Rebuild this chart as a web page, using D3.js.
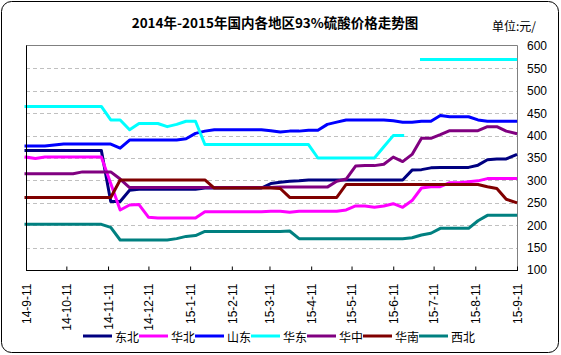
<!DOCTYPE html>
<html><head><meta charset="utf-8">
<script src="https://cdn.jsdelivr.net/npm/d3@7"></script>
<style>body{margin:0;background:#fff} svg{display:block}</style>
</head><body>
<svg id="c" width="561" height="355"></svg>
<script>
const dates = ["2014-09-11","2014-09-18","2014-09-25","2014-10-02","2014-10-09","2014-10-16","2014-10-23","2014-10-30","2014-11-06","2014-11-13","2014-11-20","2014-11-27","2014-12-04","2014-12-11","2014-12-18","2014-12-25","2015-01-01","2015-01-08","2015-01-15","2015-01-22","2015-01-29","2015-02-05","2015-02-12","2015-02-19","2015-02-26","2015-03-05","2015-03-12","2015-03-19","2015-03-26","2015-04-02","2015-04-09","2015-04-16","2015-04-23","2015-04-30","2015-05-07","2015-05-14","2015-05-21","2015-05-28","2015-06-04","2015-06-11","2015-06-18","2015-06-25","2015-07-02","2015-07-09","2015-07-16","2015-07-23","2015-07-30","2015-08-06","2015-08-13","2015-08-20","2015-08-27","2015-09-03","2015-09-10"];

const seriesNames = ["东北","华北","山东","华东","华中","华南","西北"];

const dongbei = [367,367,367,367,367,367,367,367,367,253,253,278,280,280,280,280,280,280,280,283,283,283,283,283,283,283,293,296,298,299,301,301,301,301,301,301,301,301,301,301,301,323,324,328,329,329,329,329,334,346,348,348,357];
const huabei = [352,349,352,352,352,352,352,352,352,293,234,245,246,218,216,216,216,216,216,230,230,230,230,230,230,230,231,231,229,231,231,231,231,231,234,243,243,240,243,248,240,255,283,286,286,295,295,297,299,304,304,304,304];
const shandong = [377,377,377,379,381,381,381,381,381,381,372,390,390,390,390,390,390,393,405,410,413,413,413,413,413,413,411,408,410,410,412,412,425,430,435,435,435,435,435,433,430,430,432,432,445,442,442,442,435,432,432,432,432];
const huadong = [465,465,465,465,465,465,465,465,465,435,435,413,427,427,427,420,425,432,432,380,380,380,380,380,380,380,380,380,380,380,380,350,350,350,350,350,350,350,375,400,400,null,570,570,570,570,570,570,570,570,570,570,570];
const huazhong = [315,315,315,315,315,315,319,319,319,319,303,284,284,284,284,284,284,284,284,284,284,284,284,284,284,284,284,285,285,285,285,285,285,298,303,332,333,333,336,352,342,358,394,394,402,411,411,411,411,420,420,410,405];
const huanan = [262,262,262,262,262,262,262,262,262,262,301,301,301,301,301,301,301,301,301,301,283,283,283,283,283,283,283,282,262,262,262,262,262,262,291,291,291,291,291,291,291,291,291,291,291,291,291,291,291,286,282,258,251];
const xibei = [202,202,202,202,202,202,202,202,202,195,167,167,167,167,167,167,170,175,177,186,186,186,186,186,186,186,186,186,187,170,170,170,170,170,170,170,170,170,170,170,170,172,178,182,193,193,193,193,210,222,222,222,222];

const seriesValues = [dongbei, huabei, shandong, huadong, huazhong, huanan, xibei];
const colors = ["#000080","#FF00FF","#0000FF","#00FFFF","#800080","#800000","#008080"];

const yTicks = [100,150,200,250,300,350,400,450,500,550,600];
const xTickDates = ["2014-09-11","2014-10-11","2014-11-11","2014-12-11","2015-01-11","2015-02-11","2015-03-11","2015-04-11","2015-05-11","2015-06-11","2015-07-11","2015-08-11","2015-09-11"];
const xTickLabels = ["14-9-11","14-10-11","14-11-11","14-12-11","15-1-11","15-2-11","15-3-11","15-4-11","15-5-11","15-6-11","15-7-11","15-8-11","15-9-11"];

const title = "2014年-2015年国内各地区93%硫酸价格走势图";
const unit = "单位:元/";

const parse = d3.timeParse("%Y-%m-%d");
const svg = d3.select("#c");
const L = 26, R = 517, T = 46, B = 270;

const x = d3.scaleTime().domain([parse("2014-09-11"), parse("2015-09-11")]).range([L, R]);
const y = d3.scaleLinear().domain([100, 600]).range([B, T]);

// outer frame
svg.append("rect").attr("x",1.5).attr("y",1.5).attr("width",557).attr("height",351)
  .attr("rx",10).attr("fill","#fff").attr("stroke","#000").attr("stroke-width",1);

// title
svg.append("text").attr("x",275).attr("y",22).attr("text-anchor","middle").attr("dominant-baseline","central")
  .attr("font-family","'Noto Sans CJK SC', sans-serif").attr("font-weight","bold").attr("font-size",13.5)
  .attr("fill","#000").text(title);
svg.append("text").attr("x",492).attr("y",25).attr("dominant-baseline","central")
  .attr("font-family","'Noto Sans CJK SC', sans-serif").attr("font-size",12)
  .attr("fill","#000").text(unit);

// gridlines
svg.append("g").selectAll("line").data(yTicks.filter(v => v > 100 && v < 600)).join("line")
  .attr("x1",L).attr("x2",R).attr("y1",d=>Math.round(y(d))+0.5).attr("y2",d=>Math.round(y(d))+0.5)
  .attr("stroke","#C0C0C0").attr("stroke-width",1).attr("stroke-dasharray","4,3");

// top and right borders
svg.append("line").attr("x1",L).attr("x2",R+0.5).attr("y1",Math.round(y(600))-0.5).attr("y2",Math.round(y(600))-0.5)
  .attr("stroke","#808080").attr("stroke-width",1);
svg.append("line").attr("x1",R+0.5).attr("x2",R+0.5).attr("y1",Math.round(y(600))-0.5).attr("y2",B)
  .attr("stroke","#808080").attr("stroke-width",1);

// right axis labels
const yAxis = d3.axisRight(y).tickValues(yTicks).tickSize(0).tickPadding(10);
const yg = svg.append("g").attr("transform",`translate(${R},0)`).call(yAxis);
yg.select(".domain").remove();
yg.selectAll("text").attr("font-family","'Liberation Sans', Arial, sans-serif").attr("font-size",12).attr("fill","#000");

// series lines
const line = d3.line().defined(d => d.v != null).x(d => x(d.t)).y(d => y(d.v));
seriesValues.forEach((vals, i) => {
  const data = dates.map((d, j) => ({t: parse(d), v: vals[j]}));
  svg.append("path").datum(data).attr("d", line).attr("fill","none")
    .attr("stroke", colors[i]).attr("stroke-width",3).attr("stroke-linejoin","round").attr("stroke-linecap","square");
});

// left axis
svg.append("line").attr("x1",L+0.5).attr("x2",L+0.5).attr("y1",Math.round(y(600))-0.5).attr("y2",B+0.5)
  .attr("stroke","#000").attr("stroke-width",1);

// bottom axis
const xAxis = d3.axisBottom(x).tickValues(xTickDates.map(parse)).tickSize(-4).tickPadding(0)
  .tickFormat((d,i) => xTickLabels[i]);
const xg = svg.append("g").attr("transform",`translate(0,${B+0.5})`).call(xAxis);
xg.select(".domain").attr("stroke","#000").attr("d",`M${L},0H${R+1}`);
xg.selectAll(".tick line").attr("stroke","#000");
xg.selectAll(".tick text")
  .attr("font-family","'Liberation Sans', Arial, sans-serif").attr("font-size",12).attr("fill","#000")
  .attr("text-anchor","end").attr("dy","0.35em")
  .attr("transform","translate(0,13) rotate(-90)").attr("y",0).attr("x",0);

// legend
const lg = svg.append("g");
seriesNames.forEach((n, i) => {
  const lx = 83 + i*56;
  lg.append("line").attr("x1",lx).attr("x2",lx+29).attr("y1",336).attr("y2",336)
    .attr("stroke",colors[i]).attr("stroke-width",3);
  lg.append("text").attr("x",lx+32).attr("y",336).attr("dominant-baseline","central")
    .attr("font-family","'Noto Sans CJK SC', sans-serif").attr("font-size",12).attr("fill","#000").text(n);
});
</script>
</body></html>
